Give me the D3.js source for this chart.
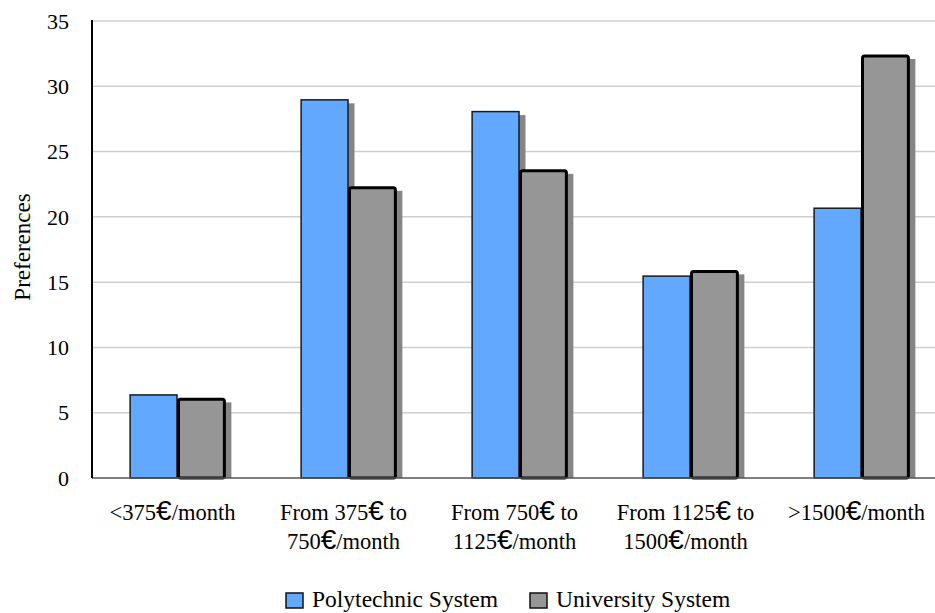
<!DOCTYPE html>
<html><head><meta charset="utf-8">
<script src="https://cdn.jsdelivr.net/npm/d3@7"></script>
<style>body{margin:0;background:#fff}svg{display:block}text{font-family:"Liberation Serif","Times New Roman",serif;fill:#000}</style>
</head><body><svg id="c" width="935" height="613"></svg>
<script>
const categories = [
  ["<375", "€", "/month"],
  ["From 375", "€", " to|750", "€", "/month"],
  ["From 750", "€", " to|1125", "€", "/month"],
  ["From 1125", "€", " to|1500", "€", "/month"],
  [">1500", "€", "/month"]
];
const categoryIds = ["c1","c2","c3","c4","c5"];
const seriesNames = ["Polytechnic System", "University System"];
const polytechnic = [6.4, 29.0, 28.1, 15.5, 20.7];
const university = [6.1, 22.3, 23.6, 15.9, 32.4];
const yTicks = [0, 5, 10, 15, 20, 25, 30, 35];
const colors = ["#62a8ff", "#969696"];

const svg = d3.select("#c");
const y = d3.scaleLinear().domain([0, 35]).range([478, 21]);
const x = d3.scaleBand().domain(categoryIds).range([92, 947]).paddingInner(0.44).paddingOuter(0.22);
const xs = d3.scaleBand().domain([0, 1]).range([0, x.bandwidth()]);

// gridlines
svg.append("g").selectAll("line").data(yTicks.filter(d => d > 0)).join("line")
  .attr("x1", 92).attr("x2", 935).attr("y1", d => y(d)).attr("y2", d => y(d))
  .attr("stroke", "#cfcfcf").attr("stroke-width", 1.5);

// y tick labels
svg.append("g").selectAll("text").data(yTicks).join("text")
  .attr("x", 69).attr("y", d => y(d)).attr("dy", "0.35em").attr("text-anchor", "end")
  .attr("font-size", 22).text(d => d);

svg.append("text").attr("transform", "translate(30,247) rotate(-90)")
  .attr("text-anchor", "middle").attr("font-size", 23).text("Preferences");

const data = [];
categoryIds.forEach((c, i) => {
  data.push({c, s: 0, v: polytechnic[i]});
  data.push({c, s: 1, v: university[i]});
});

// shadows
svg.append("g").selectAll("rect").data(data).join("rect")
  .attr("x", d => x(d.c) + xs(d.s) + 6).attr("y", d => y(d.v) + 4)
  .attr("width", xs.bandwidth()).attr("height", d => y(0) - y(d.v) - 4)
  .attr("fill", "#858585");

// bars
svg.append("g").selectAll("rect").data(data).join("rect")
  .attr("x", d => x(d.c) + xs(d.s) + (d.s ? 1 : 0.5)).attr("y", d => y(d.v) + (d.s ? 1 : 0.5))
  .attr("width", d => xs.bandwidth() - (d.s ? 2 : 1))
  .attr("height", d => y(0) - y(d.v) - (d.s ? 1 : 0.5))
  .attr("rx", d => d.s ? 2 : 0)
  .attr("fill", d => colors[d.s])
  .attr("stroke", d => d.s ? "#000" : "#1a1a1a")
  .attr("stroke-width", d => d.s ? 3 : 1.5);

// axes lines
svg.append("line").attr("x1", 92).attr("x2", 935).attr("y1", y(0)).attr("y2", y(0))
  .attr("stroke", "#555").attr("stroke-width", 1.5);
svg.append("line").attr("x1", 92).attr("x2", 92).attr("y1", 20).attr("y2", y(0))
  .attr("stroke", "#000").attr("stroke-width", 2);

// category labels
categoryIds.forEach((c, i) => {
  const parts = categories[i];
  const lines = [[]];
  parts.forEach(p => {
    if (p.includes("|")) {
      const [a, b] = p.split("|");
      lines[lines.length - 1].push(a);
      lines.push([b]);
    } else lines[lines.length - 1].push(p);
  });
  const cx = x(c) + x.bandwidth() / 2 - 5;
  lines.forEach((ln, li) => {
    const t = svg.append("text").attr("x", cx).attr("y", 520 + li * 29)
      .attr("text-anchor", "middle").attr("font-size", 22.5);
    ln.forEach(p => {
      const ts = t.append("tspan").text(p);
      if (p === "€") ts.attr("font-size", 28).attr("font-family", "Liberation Sans");
    });
  });
});

// legend
const leg = svg.append("g");
const legX = [286, 530];
seriesNames.forEach((n, i) => {
  leg.append("rect").attr("x", legX[i]).attr("y", 593).attr("width", 17).attr("height", 15)
    .attr("fill", colors[i]).attr("stroke", "#111").attr("stroke-width", 1.5);
  leg.append("text").attr("x", legX[i] + 26).attr("y", 607).attr("font-size", 23.5).text(n);
});
</script></body></html>
